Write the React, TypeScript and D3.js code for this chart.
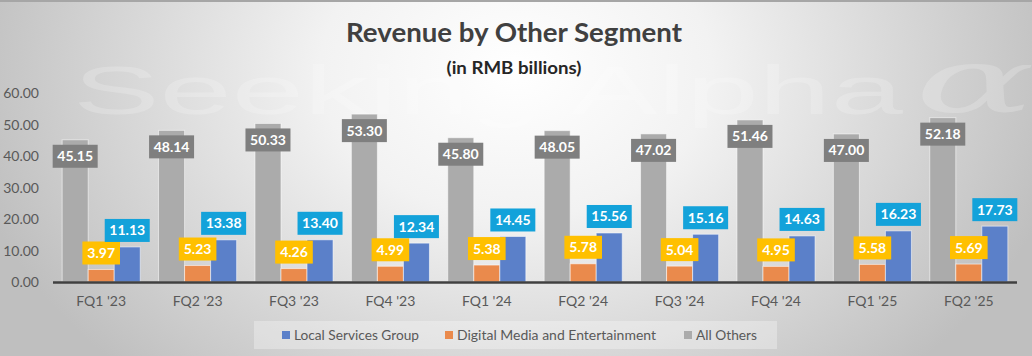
import React from "react";
import * as d3 from "d3";

const categories = ["FQ1 '23", "FQ2 '23", "FQ3 '23", "FQ4 '23", "FQ1 '24", "FQ2 '24", "FQ3 '24", "FQ4 '24", "FQ1 '25", "FQ2 '25"];
const localServices = [11.13, 13.38, 13.4, 12.34, 14.45, 15.56, 15.16, 14.63, 16.23, 17.73];
const digitalMedia = [3.97, 5.23, 4.26, 4.99, 5.38, 5.78, 5.04, 4.95, 5.58, 5.69];
const allOthers = [45.15, 48.14, 50.33, 53.3, 45.8, 48.05, 47.02, 51.46, 47.0, 52.18];
const yTicks = [0, 10, 20, 30, 40, 50, 60];

const seriesKeys = ["others", "digital", "local"];
const seriesData: Record<string, number[]> = { others: allOthers, digital: digitalMedia, local: localServices };
const barColor: Record<string, string> = { others: "#abababb", digital: "#ea8a4c", local: "#5b80c9" };
barColor.others = "#ababab";
const labelColor: Record<string, string> = { others: "#7f7f7f", digital: "#ffc000", local: "#13a2da" };

const legendItems = [
  { key: "local", name: "Local Services Group", x: 282, w: 125 },
  { key: "digital", name: "Digital Media and Entertainment", x: 445, w: 199 },
  { key: "others", name: "All Others", x: 684, w: 61 },
];

const W = 1032;
const H = 356;
const FONT = "Lato, 'Open Sans', sans-serif";

export default function App() {
  const x = d3.scaleBand<string>().domain(categories).range([53, 1017]).paddingInner(0.19).paddingOuter(0.095);
  const xs = d3.scaleBand<string>().domain(seriesKeys).range([0, x.bandwidth()]);
  const y = d3.scaleLinear().domain([0, 60]).range([282, 93]);

  const labelW = (s: string) => s.length * 7.4 + 8;

  return (
    <svg width={W} height={H} style={{ position: "absolute", left: 0, top: 0, display: "block" }}>
      <defs>
        <radialGradient id="bg" gradientUnits="userSpaceOnUse" cx={516} cy={70} r={560} gradientTransform="translate(516,70) scale(1,0.75) translate(-516,-70)">
          <stop offset="0" stopColor="#ffffff" />
          <stop offset="0.35" stopColor="#f2f2f2" />
          <stop offset="1" stopColor="#bfbfbf" />
        </radialGradient>
      </defs>
      <rect x={0} y={0} width={W} height={H} fill="url(#bg)" />
      <rect x={0} y={0} width={W} height={2} fill="#a6a6a6" />

      {/* watermark */}
      <text x={73} y={114} fontFamily="'Liberation Sans', Arial, sans-serif" fontSize={68} fill="#ffffff" opacity={0.2} textLength={830} lengthAdjust="spacingAndGlyphs">
        Seeking Alpha
      </text>
      <text x={915} y={112} fontFamily="'DejaVu Serif', serif" fontStyle="italic" fontSize={90} fill="#ffffff" opacity={0.2} textLength={120} lengthAdjust="spacingAndGlyphs">
        α
      </text>

      {/* title */}
      <text x={514} y={42} textAnchor="middle" fontFamily={FONT} fontWeight={700} fontSize={27} fill="#404040" textLength={336} lengthAdjust="spacingAndGlyphs">
        Revenue by Other Segment
      </text>
      <text x={514} y={74} textAnchor="middle" fontFamily={FONT} fontWeight={700} fontSize={16.5} fill="#262626" textLength={135} lengthAdjust="spacingAndGlyphs">
        (in RMB billions)
      </text>

      {/* y tick labels */}
      {yTicks.map((t) => (
        <text key={t} x={39} y={y(t) + 5} textAnchor="end" fontFamily={FONT} fontSize={14} fill="#595959">
          {d3.format(".2f")(t)}
        </text>
      ))}

      {/* bars */}
      {categories.map((c, i) => (
        <g key={c} transform={`translate(${x(c)},0)`}>
          {seriesKeys.map((k) => {
            const v = seriesData[k][i];
            return (
              <rect key={k} x={xs(k)} y={y(v)} width={xs.bandwidth()} height={y(0) - y(v)} fill={barColor[k]} stroke="rgba(255,255,255,0.55)" strokeWidth={1} />
            );
          })}
        </g>
      ))}

      {/* axis line */}
      <line x1={53} x2={1017} y1={y(0) + 0.5} y2={y(0) + 0.5} stroke="#404040" strokeWidth={2.5} />

      {/* labels */}
      {categories.map((c, i) => (
        <g key={"l" + c}>
          {seriesKeys.map((k) => {
            const v = seriesData[k][i];
            const s = d3.format(".2f")(v);
            const cx = (x(c) as number) + (xs(k) as number) + xs.bandwidth() / 2;
            const w = labelW(s);
            const h = 23;
            const top = k === "others" ? y(v) + 5 : y(v) - 5 - h;
            return (
              <g key={k}>
                <rect x={cx - w / 2} y={top} width={w} height={h} fill={labelColor[k]} />
                <text x={cx} y={top + 16.5} textAnchor="middle" fontFamily={FONT} fontWeight={700} fontSize={14} fill="#ffffff">
                  {s}
                </text>
              </g>
            );
          })}
        </g>
      ))}

      {/* x labels */}
      {categories.map((c) => (
        <text key={"x" + c} x={(x(c) as number) + x.bandwidth() / 2} y={306} textAnchor="middle" fontFamily={FONT} fontSize={14} fill="#595959">
          {c}
        </text>
      ))}

      {/* legend */}
      <rect x={254} y={321} width={523} height={28} fill="#ffffff" opacity={0.3} />
      {legendItems.map((it) => (
        <g key={it.key}>
          <rect x={it.x} y={331} width={8} height={8} fill={barColor[it.key]} />
          <text x={it.x + 12} y={340} fontFamily={FONT} fontSize={14} fill="#595959" textLength={it.w} lengthAdjust="spacingAndGlyphs">
            {it.name}
          </text>
        </g>
      ))}
    </svg>
  );
}
